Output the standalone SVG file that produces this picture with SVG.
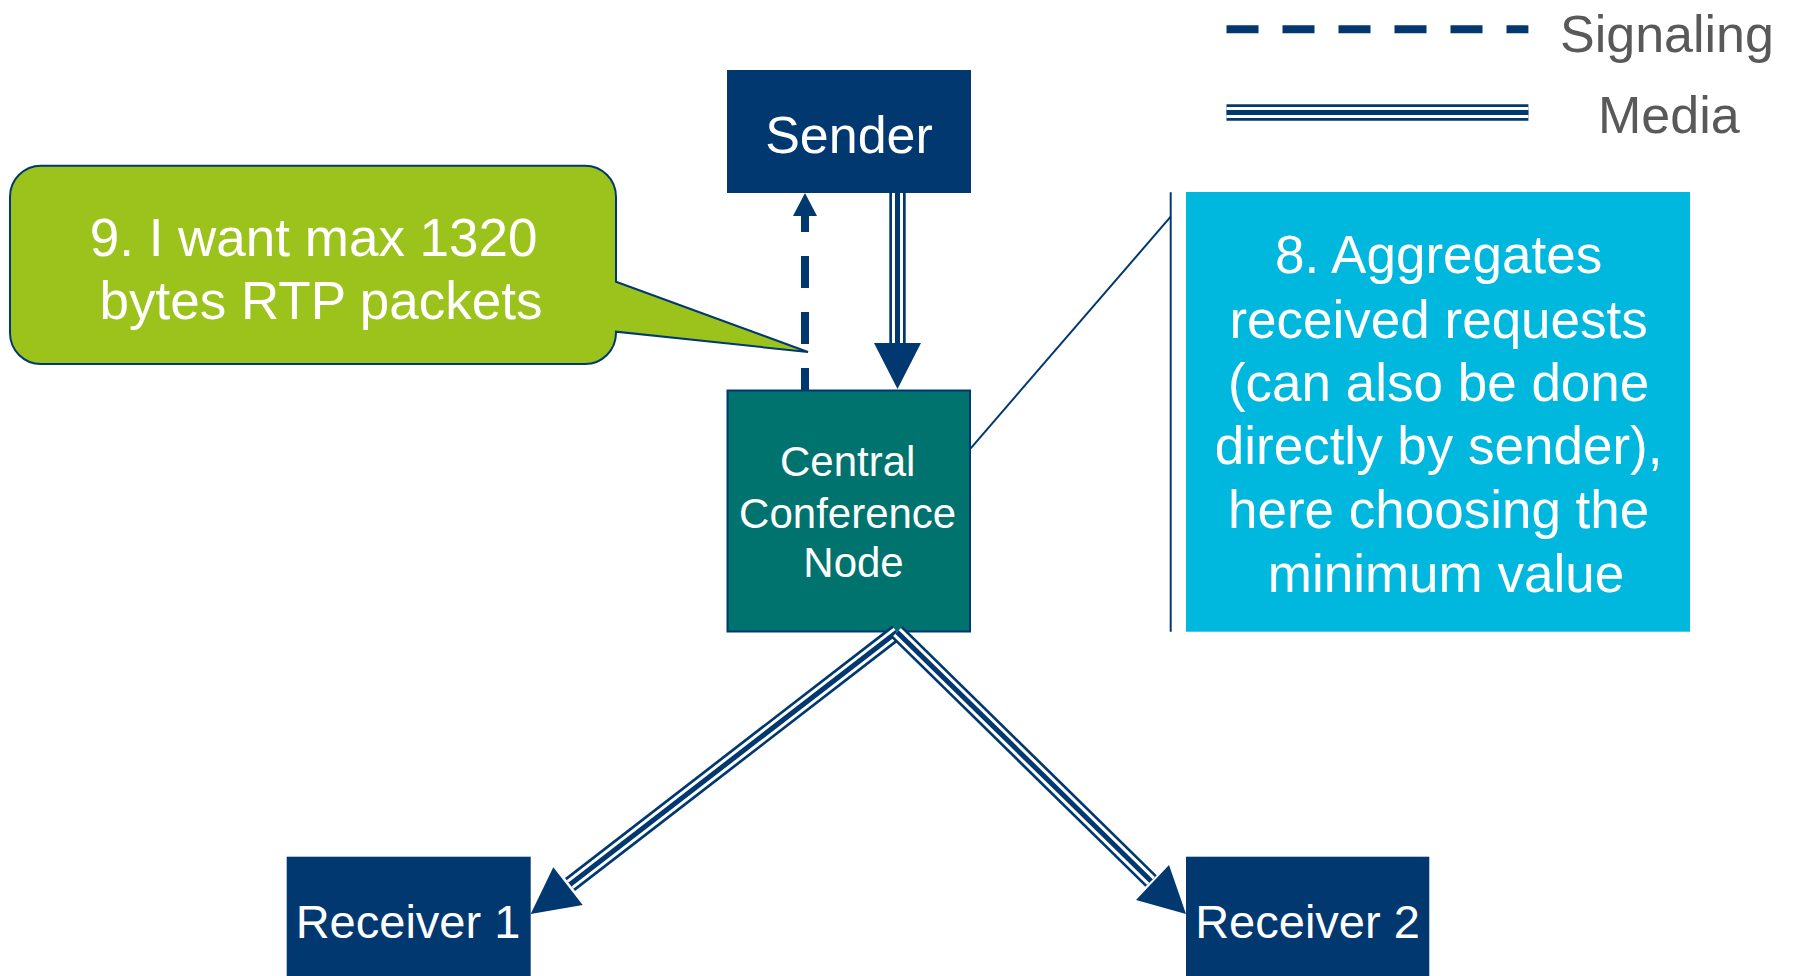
<svg xmlns="http://www.w3.org/2000/svg" xmlns:xlink="http://www.w3.org/1999/xlink" width="1794" height="976" viewBox="0 0 1794 976">
  <style>
    text { font-family: "Liberation Sans", Arial, sans-serif; }
    .box { fill: #00386F; }
    .lbl { fill: #FFFFFF; text-anchor: middle; }
    .leg { fill: #595959; font-size: 52px; }
    .sig { stroke: #00386F; stroke-width: 8; fill: none; stroke-dasharray: 32 24; }
    .mo { stroke: #00386F; stroke-width: 16.4; fill: none; }
    .mw { stroke: #FFFFFF; stroke-width: 11; fill: none; }
    .mi { stroke: #00386F; stroke-width: 5; fill: none; }
    .head { fill: #00386F; }
    .thin { stroke: #00386F; stroke-width: 2; fill: none; }
  </style>
  <defs>
    <!-- media paths (drawn as thin-thick-thin compound lines) -->
    <path id="m-legend" d="M1226.5,112.5 H1528.4"/>
    <path id="m-down" d="M897.5,193 V345"/>
    <path id="m-r1" d="M897,632 L570,884.5"/>
    <path id="m-r2" d="M897,632 L1151,881"/>
  </defs>

  <rect width="1794" height="976" fill="#FFFFFF"/>

  <!-- legend -->
  <g id="legend">
    <path class="sig" d="M1226.5,29.3 H1528.4"/>
    <text class="leg" x="1560" y="51.7">Signaling</text>
    <use href="#m-legend" class="mo"/>
    <use href="#m-legend" class="mw"/>
    <use href="#m-legend" class="mi"/>
    <text class="leg" x="1598" y="133.3">Media</text>
  </g>

  <!-- nodes -->
  <g id="sender">
    <rect class="box" x="727" y="70" width="244" height="123"/>
    <text class="lbl" x="849" y="153" font-size="52">Sender</text>
  </g>

  <g id="central">
    <rect x="727.5" y="390.5" width="242.5" height="241" fill="#00736E" stroke="#00386F" stroke-width="2"/>
    <text class="lbl" font-size="42">
      <tspan x="853.5" y="476">Central</tspan>
      <tspan x="853.5" y="527.7">Conference</tspan>
      <tspan x="853.5" y="577.3">Node</tspan>
    </text>
  </g>

  <g id="receiver1">
    <rect class="box" x="286.7" y="856.7" width="244" height="125"/>
    <text class="lbl" x="408" y="937.7" font-size="47">Receiver 1</text>
  </g>

  <g id="receiver2">
    <rect class="box" x="1186" y="856.7" width="243.3" height="125"/>
    <text class="lbl" x="1307.5" y="937.7" font-size="47">Receiver 2</text>
  </g>

  <g id="callout-request">
    <path d="M41,165.7 H585 A31,31 0 0 1 616,196.7 V281.7 L808,352 L616,331.7 V333 A31,31 0 0 1 585,364 H41 A31,31 0 0 1 10,333 V196.7 A31,31 0 0 1 41,165.7 Z"
          fill="#9BC31C" stroke="#00386F" stroke-width="2"/>
    <text class="lbl" font-size="53">
      <tspan x="321" y="255.7">9. I want max 1320</tspan>
      <tspan x="321" y="319">bytes RTP packets</tspan>
    </text>
  </g>

  <g id="note-aggregate">
    <rect x="1186" y="192" width="504" height="439.7" fill="#00B7DD"/>
    <text class="lbl" font-size="53">
      <tspan x="1446" y="273.3">8. Aggregates</tspan>
      <tspan x="1446" y="337.7">received requests</tspan>
      <tspan x="1446" y="401">(can also be done</tspan>
      <tspan x="1446" y="464.3">directly by sender),</tspan>
      <tspan x="1446" y="528.3">here choosing the</tspan>
      <tspan x="1446" y="592.3">minimum value</tspan>
    </text>
  </g>

  <!-- connectors -->
  <g id="connectors">
    <!-- signaling: central node up to sender -->
    <path class="sig" d="M805,390 V216" stroke-dashoffset="10"/>
    <polygon class="head" points="805,193 817,216 793,216"/>

    <!-- media: sender down to central node -->
    <use href="#m-down" class="mo"/>
    <use href="#m-down" class="mw"/>
    <use href="#m-down" class="mi"/>
    <polygon class="head" points="897.5,389 921,343 874,343"/>

    <!-- media: central node to receiver 1 -->
    <use href="#m-r1" class="mo"/>
    <use href="#m-r1" class="mw"/>
    <use href="#m-r1" class="mi"/>
    <polygon class="head" points="530.7,914 553.3,867.3 582.7,905"/>

    <!-- media: central node to receiver 2 -->
    <use href="#m-r2" class="mo"/>
    <use href="#m-r2" class="mw"/>
    <use href="#m-r2" class="mi"/>
    <polygon class="head" points="1186,914 1169,865 1136,900"/>

    <!-- note leader line -->
    <path class="thin" d="M970.7,448.3 L1170.7,216.7"/>
    <path class="thin" d="M1170.7,192.3 V631.7"/>
  </g>
</svg>
